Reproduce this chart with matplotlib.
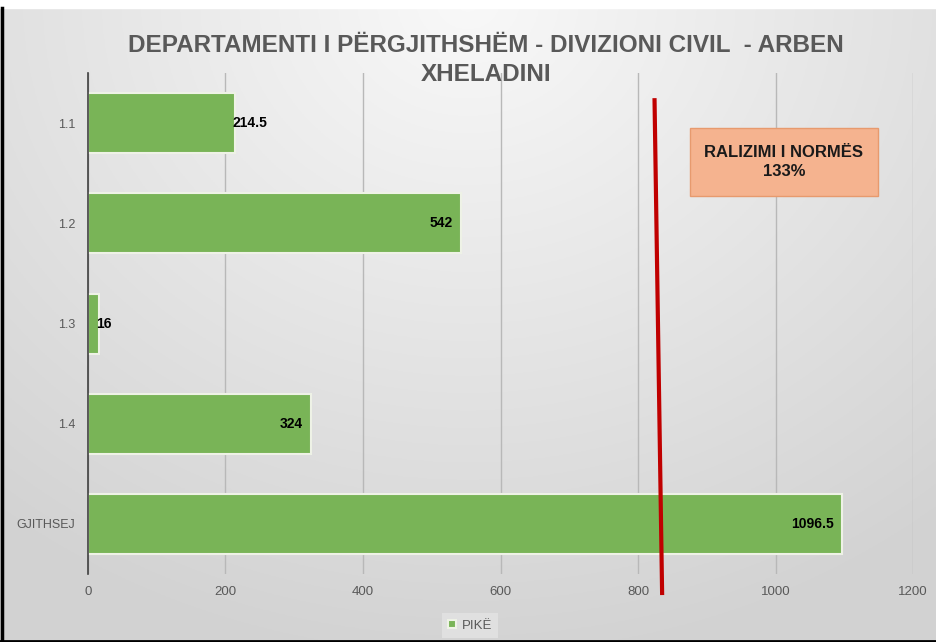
import numpy as np
import matplotlib.pyplot as plt
from matplotlib.patches import Rectangle, FancyBboxPatch

categories = ["1.1", "1.2", "1.3", "1.4", "GJITHSEJ"]
values = [214.5, 542, 16, 324, 1096.5]
value_labels = ["214.5", "542", "16", "324", "1096.5"]
series_name = "PIKË"
title = "DEPARTAMENTI I PËRGJITHSHËM - DIVIZIONI CIVIL  - ARBEN\nXHELADINI"
norm_text = "RALIZIMI I NORMËS\n133%"
# slanted red marker line, start/end in data units (x value, category index)
norm_line_x = [824, 835]
norm_line_y = [-0.23, 4.69]

plt.rcParams["font.family"] = ["Liberation Sans", "DejaVu Sans"]

fig = plt.figure(figsize=(9.36, 6.42), dpi=100)

# gray radial background
bg = fig.add_axes([0, 0, 1, 1], zorder=-5)
gx, gy = np.meshgrid(np.linspace(-1, 1, 400), np.linspace(0, 1.4, 300))
r = np.sqrt((gx * 0.9) ** 2 + gy ** 2)
shade = 0.975 - 0.15 * np.clip(r / 1.45, 0, 1)
bg.imshow(np.dstack([shade] * 3), extent=[0, 1, 0, 1], aspect="auto", origin="upper")
bg.add_patch(Rectangle((0, 0.987), 1, 0.013, color="white", transform=bg.transAxes))
bg.plot([0.002, 0.002], [0, 0.987], color="black", lw=2.5, transform=bg.transAxes)
bg.plot([0, 1], [0.002, 0.002], color="black", lw=2, transform=bg.transAxes)
bg.set_xlim(0, 1)
bg.set_ylim(0, 1)
bg.axis("off")

ax = fig.add_axes([0.094, 0.106, 0.8815, 0.780])
ax.patch.set_alpha(0)

y = np.arange(len(categories))
bars = ax.barh(y, values, height=0.6, color="#79b457", edgecolor="#eef2e6",
               linewidth=1.5, label=series_name, zorder=3)

for i, (v, lab) in enumerate(zip(values, value_labels)):
    if v < 300:
        ax.annotate(lab, (v, i), xytext=(-2, 0), textcoords="offset points",
                    ha="left", va="center", fontsize=10, fontweight="bold",
                    color="black", zorder=5)
    else:
        ax.annotate(lab, (v, i), xytext=(-6, 0), textcoords="offset points",
                    ha="right", va="center", fontsize=10, fontweight="bold",
                    color="black", zorder=5)

ax.set_xlim(0, 1200)
ax.set_ylim(len(categories) - 0.5, -0.5)
ax.set_xticks(np.arange(0, 1201, 200))
ax.set_yticks(y)
ax.set_yticklabels(categories)
ax.tick_params(axis="both", length=0, labelsize=9.5, colors="#595959")
ax.tick_params(axis="x", pad=9)
ax.tick_params(axis="y", pad=9, labelsize=9)
ax.grid(axis="x", color="#b8b8b8", lw=1, zorder=0)
for s in ["top", "right", "bottom"]:
    ax.spines[s].set_visible(False)
ax.spines["left"].set_color("#404040")
ax.spines["left"].set_linewidth(1.2)
ax.spines["left"].set_zorder(4)

ax.plot(norm_line_x, norm_line_y, color="#c00000", lw=3, clip_on=False, zorder=6)

box = FancyBboxPatch((0.737, 0.695), 0.201, 0.106, boxstyle="square,pad=0",
                     facecolor="#f5b38f", edgecolor="#e79a6e", lw=1,
                     transform=fig.transFigure, zorder=7)
fig.patches.append(box)
fig.text(0.8376, 0.748, norm_text, ha="center", va="center", fontsize=12,
         fontweight="bold", color="#1a1a1a", linespacing=1.35, zorder=8)

fig.text(0.519, 0.906, title, ha="center", va="center", fontsize=17.5,
         fontweight="bold", color="#595959", linespacing=1.35)

leg = ax.legend(loc="upper center", bbox_to_anchor=(0.463, -0.065), frameon=True,
                fontsize=9.5, handlelength=0.6, handleheight=0.6,
                handletextpad=0.4, borderpad=0.5, fancybox=False)
leg.get_frame().set_facecolor("#e4e4e4")
leg.get_frame().set_edgecolor("none")
for t in leg.get_texts():
    t.set_color("#595959")

fig.savefig("out.png", dpi=100)
